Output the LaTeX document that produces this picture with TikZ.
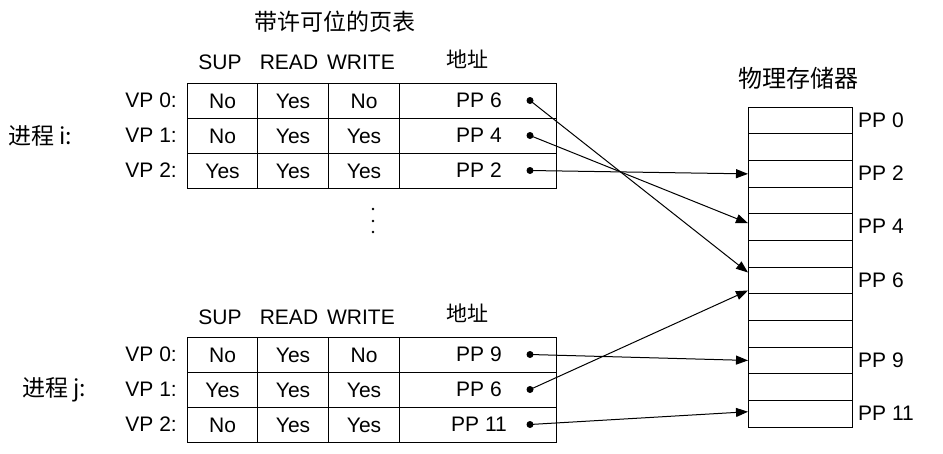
\documentclass[tikz,border=0pt]{standalone}
\usepackage{fontspec}
\setmainfont{Liberation Sans}
\newfontfamily\cjk{Noto Sans CJK SC}
\usetikzlibrary{arrows.meta}
\begin{document}
\begin{tikzpicture}[x=1pt,y=-1pt,
  lat/.style={font=\fontsize{21}{23}\selectfont, inner sep=0pt},
  zh/.style={font=\cjk\fontsize{23}{25}\selectfont, inner sep=0pt},
  cell/.style={draw, line width=1.1pt, minimum height=35pt, inner sep=0pt, anchor=north west, font=\fontsize{21}{23}\selectfont},
  memcell/.style={draw, line width=1.1pt, minimum height=26.65pt, minimum width=104pt, inner sep=0pt, anchor=north west},
  ptr/.style={line width=1pt, -{Triangle[length=12pt,width=9pt]}},
  dotc/.style={circle, fill, inner sep=0pt, minimum size=7pt},
  vdot/.style={circle, fill, inner sep=0pt, minimum size=2.8pt}]
\useasboundingbox (0,0) rectangle (943,453);

% titles
\node[zh] (title) at (335,22) {带许可位的页表};
\node[zh, font=\cjk\fontsize{24}{26}\selectfont] (memtitle) at (798,78) {物理存储器};

% ---------- top table (process i) ----------
\node[lat] (hsup1) at (220,62) {SUP};
\node[lat] (hread1) at (289,62) {READ};
\node[lat] (hwrite1) at (361,62) {WRITE};
\node[zh, font=\cjk\fontsize{21}{23}\selectfont] (haddr1) at (467,59) {地址};

\node[zh, anchor=west] (proci) at (8,136) {进程 i:};

\foreach \r/\ya/\s/\rd/\w/\pp in {0/83/No/Yes/No/6, 1/118/No/Yes/Yes/4, 2/153/Yes/Yes/Yes/2}{
  \node[lat, anchor=east] (ivp\r) at (177,\ya+17.5) {VP \r:};
  \node[cell, minimum width=70pt] (isup\r) at (187,\ya) {\s};
  \node[cell, minimum width=71pt] (iread\r) at (257,\ya) {\rd};
  \node[cell, minimum width=71pt] (iwrite\r) at (328,\ya) {\w};
  \node[cell, minimum width=157pt] (iaddr\r) at (399,\ya) {};
  \node[lat] (ipp\r) at (479,\ya+17.5) {PP \pp};
  \node[dotc] (idot\r) at (530,\ya+17.5) {};
}

% vertical ellipsis
\node[vdot] (vd1) at (373,209) {};
\node[vdot] (vd2) at (373,221) {};
\node[vdot] (vd3) at (373,232) {};

% ---------- bottom table (process j) ----------
\node[lat] (hsup2) at (220,317) {SUP};
\node[lat] (hread2) at (289,317) {READ};
\node[lat] (hwrite2) at (361,317) {WRITE};
\node[zh, font=\cjk\fontsize{21}{23}\selectfont] (haddr2) at (467,313) {地址};

\node[zh, anchor=west] (procj) at (22,390) {进程 j:};

\foreach \r/\ya/\s/\rd/\w/\pp in {0/337/No/Yes/No/9, 1/372/Yes/Yes/Yes/6, 2/407/No/Yes/Yes/11}{
  \node[lat, anchor=east] (jvp\r) at (177,\ya+17.5) {VP \r:};
  \node[cell, minimum width=70pt] (jsup\r) at (187,\ya) {\s};
  \node[cell, minimum width=71pt] (jread\r) at (257,\ya) {\rd};
  \node[cell, minimum width=71pt] (jwrite\r) at (328,\ya) {\w};
  \node[cell, minimum width=157pt] (jaddr\r) at (399,\ya) {};
  \node[lat] (jpp\r) at (479,\ya+17.5) {PP \pp};
  \node[dotc] (jdot\r) at (530,\ya+17.5) {};
}

% ---------- physical memory ----------
\foreach \i in {0,...,11}{
  \node[memcell] (m\i) at (748,106.7+\i*26.65) {};
}
\foreach \i in {0,2,4,6,9,11}{
  \node[lat, anchor=west] (ml\i) at (858,106.7+\i*26.65+13.3) {PP \i};
}

% ---------- pointers ----------
\draw[ptr] (idot0.center) -- ([yshift=8pt]m6.west);
\draw[ptr] (idot1.center) -- ([yshift=4pt]m4.west);
\draw[ptr] (idot2.center) -- (m2.west);
\draw[ptr] (jdot0.center) -- (m9.west);
\draw[ptr] (jdot1.center) -- ([yshift=-10pt]m6.west);
\draw[ptr] (jdot2.center) -- ([yshift=2pt]m11.west);
\end{tikzpicture}
\end{document}
